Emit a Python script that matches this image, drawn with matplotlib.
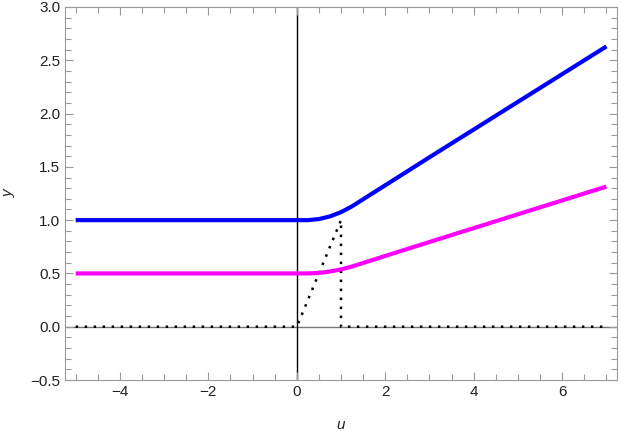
import matplotlib.pyplot as plt
from matplotlib.ticker import MultipleLocator

# curve samples
u = [-5, 0, 0.25, 0.5, 0.75, 1.0, 1.25, 1.5, 2, 3, 4, 5, 6, 7]
y_blue = [1.0, 1.0, 1.0, 1.01, 1.035, 1.075, 1.13, 1.196, 1.327, 1.59, 1.85, 2.11, 2.37, 2.63]
y_pink = [0.5, 0.5, 0.5, 0.505, 0.518, 0.538, 0.565, 0.598, 0.664, 0.795, 0.925, 1.055, 1.185, 1.315]

# dotted triangle pulse
u_dot = [-5, 0, 1, 1, 7]
y_dot = [0, 0, 1, 0, 0]

xticks = [-4, -2, 0, 2, 4, 6]
yticks = [-0.5, 0.0, 0.5, 1.0, 1.5, 2.0, 2.5, 3.0]

plt.rcParams['font.family'] = ['Liberation Sans', 'DejaVu Sans']

fig = plt.figure(figsize=(6.21, 4.36), dpi=100)
ax = fig.add_axes([0.1047, 0.1284, 0.8889, 0.8556])

xlim = (-5.24, 7.24)
ylim = (-0.5, 3.0)
frame = '#999999'

# axes through the origin
ax.plot(xlim, [0, 0], color='#777777', lw=1.0, zorder=1)
ax.plot([0, 0], ylim, color='black', lw=1.0, zorder=1)

ax.plot(u_dot, y_dot, color='black', lw=1.8, linestyle=(0, (1, 2.6)), zorder=2)
ax.plot(u, y_blue, color='#0000ff', lw=3, solid_capstyle='butt', zorder=3)
ax.plot(u, y_pink, color='#ff00ff', lw=3, solid_capstyle='butt', zorder=3)

ax.set_xlim(*xlim)
ax.set_ylim(*ylim)
ax.set_xticks(xticks)
ax.set_yticks(yticks)
ax.set_xticklabels([str(t).replace('-', '\u2212') for t in xticks])
ax.set_yticklabels([f'{t:.1f}'.replace('-', '\u2212') for t in yticks])
ax.xaxis.set_minor_locator(MultipleLocator(0.5))
ax.yaxis.set_minor_locator(MultipleLocator(0.1))

ax.tick_params(which='both', direction='in', top=True, right=True,
               color=frame, labelsize=11, labelcolor='#222222')
ax.tick_params(which='major', length=6, width=0.8)
ax.tick_params(which='minor', length=4, width=0.8)
for s in ax.spines.values():
    s.set_color(frame)
    s.set_linewidth(0.8)

ax.set_xlabel('u', fontsize=11, style='italic', color='#222222', labelpad=14)
ax.set_ylabel('y', fontsize=11, style='italic', color='#222222', labelpad=10)

fig.savefig('out.png', dpi=100)
